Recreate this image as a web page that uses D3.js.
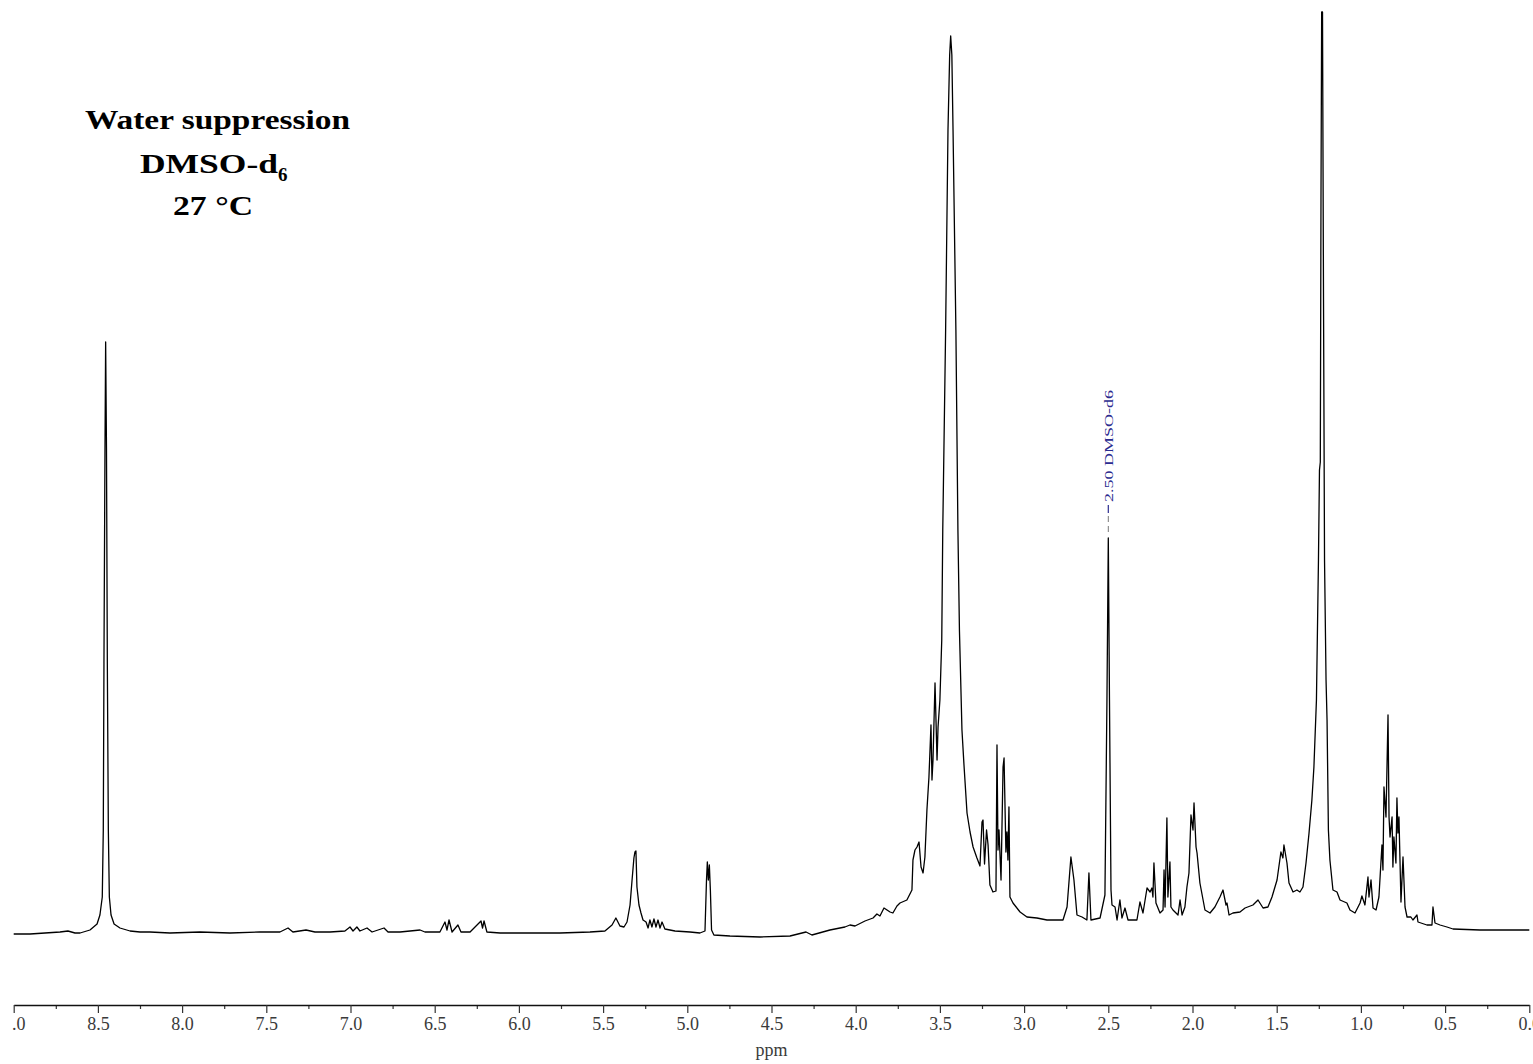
<!DOCTYPE html>
<html>
<head>
<meta charset="utf-8">
<script src="https://cdn.jsdelivr.net/npm/d3@7"></script>
<style>
  body { margin: 0; background: #fff; }
  svg { display: block; }
</style>
</head>
<body>
<svg id="mainsvg"></svg>
<script>
// spectrum: chemical shift (ppm) and intensity (arbitrary units)
const ppm = [
  9.000, 8.903, 8.814, 8.725, 8.678, 8.636, 8.606, 8.547, 8.505, 8.488,
  8.474, 8.468, 8.464, 8.458, 8.454, 8.449, 8.444, 8.438, 8.432, 8.422,
  8.404, 8.369, 8.309, 8.250, 8.191, 8.072, 7.894, 7.716, 7.538, 7.419,
  7.371, 7.342, 7.264, 7.211, 7.122, 7.033, 7.003, 6.985, 6.962, 6.944,
  6.902, 6.872, 6.801, 6.777, 6.706, 6.587, 6.558, 6.469, 6.439, 6.427,
  6.415, 6.397, 6.362, 6.344, 6.290, 6.225, 6.216, 6.207, 6.190, 6.112,
  5.934, 5.756, 5.578, 5.489, 5.447, 5.424, 5.400, 5.376, 5.358, 5.340,
  5.328, 5.322, 5.317, 5.311, 5.305, 5.299, 5.287, 5.275, 5.263, 5.245,
  5.233, 5.222, 5.210, 5.198, 5.186, 5.174, 5.162, 5.150, 5.133, 5.073,
  4.984, 4.925, 4.895, 4.886, 4.881, 4.875, 4.869, 4.863, 4.856, 4.842,
  4.747, 4.568, 4.390, 4.295, 4.260, 4.153, 4.064, 4.034, 4.004, 3.945,
  3.897, 3.874, 3.856, 3.832, 3.814, 3.796, 3.779, 3.755, 3.737, 3.696,
  3.666, 3.660, 3.648, 3.636, 3.624, 3.612, 3.600, 3.589, 3.577, 3.565,
  3.553, 3.547, 3.541, 3.529, 3.517, 3.511, 3.500, 3.489, 3.483, 3.466,
  3.452, 3.442, 3.436, 3.429, 3.422, 3.405, 3.393, 3.384, 3.369, 3.357,
  3.339, 3.321, 3.303, 3.280, 3.262, 3.250, 3.244, 3.235, 3.223, 3.214,
  3.203, 3.185, 3.167, 3.161, 3.155, 3.149, 3.137, 3.125, 3.119, 3.108,
  3.102, 3.096, 3.090, 3.084, 3.066, 3.024, 2.983, 2.924, 2.864, 2.769,
  2.745, 2.722, 2.704, 2.686, 2.656, 2.627, 2.615, 2.603, 2.549, 2.520,
  2.508, 2.500, 2.493, 2.484, 2.478, 2.460, 2.448, 2.431, 2.419, 2.401,
  2.383, 2.330, 2.312, 2.294, 2.270, 2.252, 2.241, 2.235, 2.229, 2.217,
  2.193, 2.175, 2.169, 2.163, 2.152, 2.146, 2.134, 2.128, 2.116, 2.086,
  2.074, 2.062, 2.045, 2.033, 2.021, 2.009, 1.997, 1.991, 1.979, 1.973,
  1.956, 1.926, 1.896, 1.867, 1.837, 1.819, 1.801, 1.795, 1.783, 1.760,
  1.718, 1.688, 1.641, 1.611, 1.581, 1.552, 1.528, 1.498, 1.475, 1.463,
  1.457, 1.439, 1.427, 1.403, 1.380, 1.362, 1.344, 1.326, 1.308, 1.291,
  1.279, 1.264, 1.252, 1.246, 1.241, 1.237, 1.233, 1.228, 1.222, 1.216,
  1.207, 1.201, 1.193, 1.184, 1.166, 1.142, 1.124, 1.083, 1.065, 1.035,
  1.005, 0.994, 0.976, 0.958, 0.952, 0.940, 0.928, 0.910, 0.893, 0.875,
  0.869, 0.863, 0.851, 0.839, 0.833, 0.827, 0.815, 0.810, 0.804, 0.792,
  0.786, 0.780, 0.774, 0.762, 0.750, 0.738, 0.726, 0.703, 0.691, 0.667,
  0.661, 0.608, 0.578, 0.572, 0.560, 0.530, 0.489, 0.453, 0.293, 0.144,
  0.000
];
const intensity = [
  -1, -1, 0, 1, 2, 0, 0, 3, 9, 18,
  36, 103, 270, 483, 591, 483, 270, 103, 36, 18,
  9, 5, 2, 1, 1, 0, 1, 0, 1, 1,
  5, 1, 3, 1, 1, 2, 6, 2, 6, 2,
  5, 1, 5, 1, 1, 3, 1, 1, 11, 3,
  13, 1, 8, 1, 1, 12, 5, 12, 1, 0,
  0, 0, 1, 2, 8, 15, 7, 6, 11, 28,
  53, 65, 75, 81, 82, 46, 28, 20, 13, 11,
  5, 13, 6, 14, 6, 13, 5, 11, 4, 2,
  1, 0, 2, 53, 71, 53, 68, 43, 3, -2,
  -3, -4, -3, 1, -2, 3, 6, 8, 7, 12,
  15, 19, 17, 25, 23, 21, 20, 27, 30, 33,
  43, 73, 83, 86, 91, 66, 60, 76, 123, 156,
  208, 153, 173, 250, 173, 206, 233, 293, 403, 603,
  803, 878, 897, 878, 803, 603, 403, 303, 203, 168,
  120, 101, 86, 75, 67, 111, 113, 69, 103, 88,
  48, 41, 42, 188, 83, 103, 53, 166, 175, 81,
  101, 73, 126, 36, 30, 21, 16, 15, 13, 13,
  26, 76, 53, 18, 16, 13, 60, 13, 15, 38,
  233, 395, 233, 43, 28, 26, 13, 33, 15, 25,
  13, 13, 31, 20, 45, 41, 45, 36, 70, 30,
  20, 23, 63, 26, 115, 36, 71, 26, 23, 18,
  33, 18, 26, 46, 60, 118, 103, 130, 86, 80,
  50, 23, 20, 26, 36, 43, 28, 30, 18, 20,
  21, 25, 28, 33, 25, 26, 36, 53, 81, 75,
  88, 70, 50, 41, 43, 41, 46, 70, 100, 133,
  166, 233, 373, 463, 471, 733, 921, 921, 633, 373,
  253, 213, 103, 73, 43, 41, 33, 30, 23, 20,
  30, 37, 28, 56, 36, 53, 25, 23, 36, 88,
  63, 146, 116, 218, 116, 96, 116, 66, 96, 70,
  135, 100, 116, 31, 76, 26, 16, 16, 13, 18,
  11, 8, 8, 26, 10, 8, 6, 4, 3, 3,
  3
];

const majorTicks = [9.0, 8.5, 8.0, 7.5, 7.0, 6.5, 6.0, 5.5, 5.0, 4.5, 4.0, 3.5, 3.0, 2.5, 2.0, 1.5, 1.0, 0.5, 0.0];
const minorTicks = [8.75, 8.25, 7.75, 7.25, 6.75, 6.25, 5.75, 5.25, 4.75, 4.25, 3.75, 3.25, 2.75, 2.25, 1.75, 1.25, 0.75, 0.25];
const titleLines = ["Water suppression", "DMSO-d", "27 °C"];
const peakLabelPpm = [2.50];
const peakLabelText = ["2.50 DMSO-d6"];
const axisTitle = "ppm";

let svgWidth = 1533,
    svgHeight = 1064,
    mainsvg = d3.select("#mainsvg").attr("width", svgWidth).attr("height", svgHeight);

let scaleX = d3.scaleLinear().domain([9, 0]).range([13.7, 1529.3]),
    scaleY = d3.scaleLinear().domain([0, 921]).range([933, 12]);

let points = ppm.map((p, i) => [p, intensity[i]]);

// spectrum
mainsvg.append("path")
    .datum(points)
    .attr("fill", "none")
    .attr("stroke", "#000")
    .attr("stroke-width", 1.3)
    .attr("stroke-linejoin", "round")
    .attr("d", d3.line().x(d => scaleX(d[0])).y(d => scaleY(d[1])));

// axis; labels clipped to the plotted range so the end ones get cut like the original
let axisY = 1005;
mainsvg.append("defs").append("clipPath").attr("id", "axisclip")
    .append("rect").attr("x", 12).attr("y", -10).attr("width", 1521).attr("height", 60);

let axisG = mainsvg.append("g")
    .attr("class", "axis")
    .attr("transform", `translate(0,${axisY})`)
    .attr("clip-path", "url(#axisclip)");

axisG.append("g")
    .call(d3.axisBottom(scaleX).tickValues(minorTicks).tickSize(4).tickSizeOuter(0).tickFormat(""))
    .call(g => g.select(".domain").remove());

axisG.append("g")
    .call(d3.axisBottom(scaleX).tickValues(majorTicks).tickSize(8).tickSizeOuter(0).tickFormat(d3.format(".1f")));

axisG.selectAll("line").attr("stroke", "#333").attr("stroke-width", 1.2);
axisG.selectAll(".domain").attr("stroke", "#111").attr("stroke-width", 1.5);
axisG.selectAll("text")
    .attr("y", 25).attr("dy", 0)
    .attr("fill", "#3a3a3a")
    .style("font-family", "'Liberation Serif', 'DejaVu Serif', serif")
    .style("font-size", "18px");

mainsvg.append("text")
    .attr("x", scaleX(4.5))
    .attr("y", 1056)
    .attr("text-anchor", "middle")
    .attr("fill", "#3a3a3a")
    .style("font-family", "'Liberation Serif', serif")
    .style("font-size", "18px")
    .text(axisTitle);

// title block
let title = mainsvg.append("g")
    .style("font-family", "'Liberation Serif', serif")
    .style("font-weight", "bold")
    .style("font-size", "28px");
title.append("text").attr("x", 85).attr("y", 129)
    .attr("textLength", 265).attr("lengthAdjust", "spacingAndGlyphs")
    .text(titleLines[0]);
let l2 = title.append("text").attr("x", 140).attr("y", 173);
l2.append("tspan").attr("textLength", 138).attr("lengthAdjust", "spacingAndGlyphs").text(titleLines[1]);
l2.append("tspan").attr("dy", 8).style("font-size", "19px").text("6");
title.append("text").attr("x", 173).attr("y", 215)
    .attr("textLength", 80).attr("lengthAdjust", "spacingAndGlyphs")
    .text(titleLines[2]);

// peak label
peakLabelPpm.forEach((p, i) => {
    let px = scaleX(p);
    let idx = ppm.indexOf(p);
    let topY = scaleY(intensity[idx]);
    let g = mainsvg.append("g");
    g.append("line")
        .attr("x1", px).attr("x2", px)
        .attr("y1", topY - 33).attr("y2", topY - 25)
        .attr("stroke", "#2b2b8f").attr("stroke-width", 1.2);
    g.append("line")
        .attr("x1", px).attr("x2", px)
        .attr("y1", topY - 22).attr("y2", topY - 3)
        .attr("stroke", "#777").attr("stroke-width", 1)
        .attr("stroke-dasharray", "6,4");
    g.append("text")
        .attr("transform", `translate(${px + 4.5},${topY - 36}) rotate(-90)`)
        .attr("fill", "#2b2b8f")
        .attr("textLength", 112)
        .attr("lengthAdjust", "spacingAndGlyphs")
        .style("font-family", "'Liberation Serif', serif")
        .style("font-size", "13px")
        .text(peakLabelText[i]);
});
</script>
</body>
</html>
